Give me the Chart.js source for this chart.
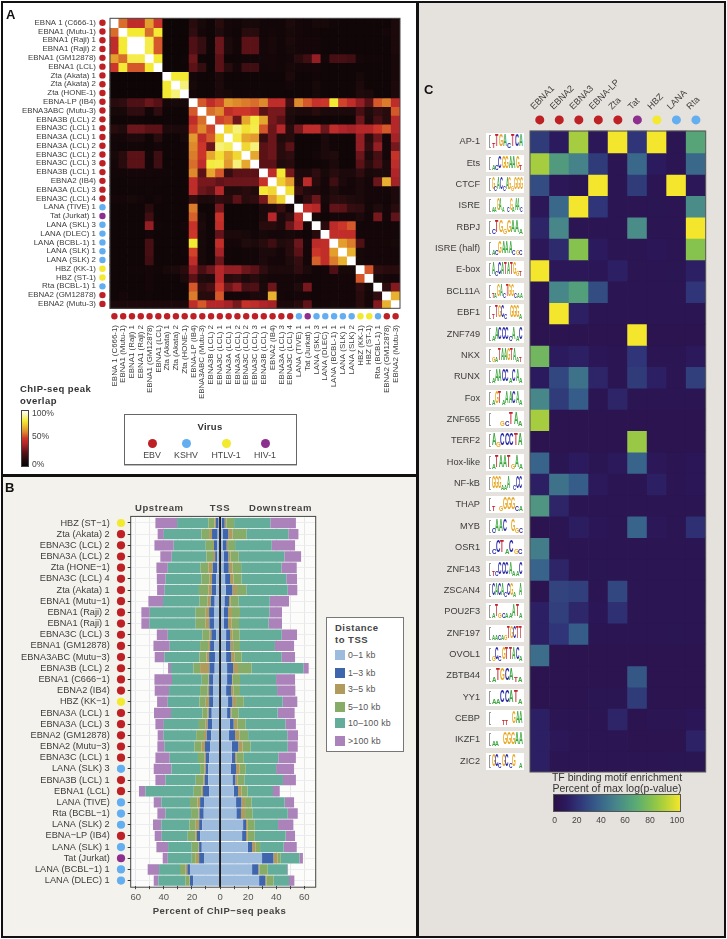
<!DOCTYPE html>
<html>
<head>
<meta charset="utf-8">
<title>ChIP-seq overlap</title>
<script src="https://cdn.jsdelivr.net/npm/chart.js@4"></script>
<style>
  html, body { margin: 0; padding: 0; background: #fff; }
  #page { position: relative; width: 727px; height: 939px; overflow: hidden; font-family: "Liberation Sans", Arial, sans-serif; color: #333; }
  canvas { position: absolute; left: 0; top: 0; }
  .panel { position: absolute; box-sizing: border-box; border: 2px solid #111; }
  .txt { position: absolute; white-space: nowrap; line-height: 1; }
  .logo { position: absolute; background: #fff; overflow: hidden; }
  .logo b { position: absolute; display: block; line-height: 1; font-weight: bold; transform-origin: left bottom; }
</style>
</head>
<body>
<div id="page">
  <div class="panel" style="left:1px;top:1px;width:417px;height:475px;background:#fff"></div>
  <div class="panel" style="left:1px;top:475px;width:417px;height:463px;background:#f3f2ec"></div>
  <div class="panel" style="left:417px;top:1px;width:309px;height:937px;background:#e5e1dc"></div>
  <canvas id="chartA" width="727" height="939"></canvas>
  <canvas id="chartB" width="727" height="939"></canvas>
  <canvas id="chartBDots" width="727" height="939"></canvas>
  <canvas id="chartC" width="727" height="939"></canvas>
</div>
<script>
const RED = '#bd2025', BLUE = '#62aef0', YELLOW = '#f3e92e', PURPLE = '#8d2f8f';

// panel A
const overlapNames = ['EBNA 1 (C666-1)','EBNA1 (Mutu-1)','EBNA1 (Raji) 1','EBNA1 (Raji) 2','EBNA1 (GM12878)','EBNA1 (LCL)',
  'Zta (Akata) 1','Zta (Akata) 2','Zta (HONE-1)','EBNA-LP (IB4)','EBNA3ABC (Mutu-3)','EBNA3B (LCL) 2','EBNA3C (LCL) 1',
  'EBNA3A (LCL) 1','EBNA3A (LCL) 2','EBNA3C (LCL) 2','EBNA3C (LCL) 3','EBNA3B (LCL) 1','EBNA2 (IB4)','EBNA3A (LCL) 3',
  'EBNA3C (LCL) 4','LANA (TIVE) 1','Tat (Jurkat) 1','LANA (SKL) 3','LANA (DLEC) 1','LANA (BCBL-1) 1','LANA (SLK) 1',
  'LANA (SLK) 2','HBZ (KK-1)','HBZ (ST-1)','Rta (BCBL-1) 1','EBNA2 (GM12878)','EBNA2 (Mutu-3)'];
const overlapVirus = [RED,RED,RED,RED,RED,RED,RED,RED,RED,RED,RED,RED,RED,RED,RED,RED,RED,RED,RED,RED,RED,
  BLUE,PURPLE,BLUE,BLUE,BLUE,BLUE,BLUE,YELLOW,YELLOW,BLUE,RED,RED];
const overlap = [
  [100,58,45,45,66,50, 2,2,2, 12,6,3,12,5,4,6,6, 4,4,4,8,5,4,6,6,4,3,3,3,3,3,3,8],
  [58,100,82,82,58,82, 2,2,2, 14,5,3,10,5,3,12,12, 4,5,4,6,5,4,4,3,3,3,3,3,3,3,5,8],
  [45,82,100,100,84,55, 2,2,2, 22,15,3,28,8,4,25,25, 5,7,4,8,5,5,5,3,3,3,3,3,3,3,3,8],
  [45,82,100,100,84,55, 2,2,2, 22,15,3,28,8,4,25,25, 5,7,4,6,5,5,5,3,3,3,3,3,3,3,3,8],
  [66,58,84,84,100,82, 2,2,3, 28,3,2,25,3,3,4,4, 5,5,4,5,12,18,35,5,20,20,18,5,4,4,3,7],
  [50,82,55,55,82,100, 2,2,2, 25,15,2,25,12,5,18,18, 4,5,4,7,5,5,5,3,3,3,3,3,3,3,3,7],
  [2,2,2,2,2,2, 100,82,82, 5,3,3,8,3,3,3,3, 3,3,3,8,3,3,4,3,3,3,3,6,3,3,3,7],
  [2,2,2,2,2,2, 82,100,88, 6,3,3,8,3,3,3,3, 3,3,3,5,3,3,6,3,3,3,3,8,3,3,3,8],
  [2,2,2,2,2,2, 82,88,100, 5,3,3,8,6,4,4,4, 3,3,3,3,3,3,6,3,3,3,3,10,8,3,3,8],
  [12,14,22,22,28,24, 5,6,6, 100,55,45,52,65,62,60,58, 62,45,45,18,62,55,48,50,82,52,45,35,25,55,60,45],
  [6,6,14,14,4,14, 3,3,3, 55,100,58,62,45,50,50,45, 25,30,30,10,8,8,12,8,8,8,8,20,10,15,12,55],
  [3,3,3,3,2,2, 3,3,3, 45,58,100,52,55,28,68,83, 68,30,25,8,3,3,3,3,3,3,3,28,8,20,12,42],
  [12,10,28,28,25,25, 8,8,8, 52,62,52,100,78,88,80,84, 55,28,42,12,30,45,45,28,45,40,38,42,42,50,55,42],
  [5,5,8,8,3,12, 3,3,6, 65,45,55,78,100,84,68,65, 15,28,10,12,3,3,3,8,4,3,3,35,12,28,5,38],
  [4,3,4,4,3,5, 3,3,4, 62,50,28,88,85,100,78,88, 25,28,12,25,3,3,3,8,4,3,3,35,14,35,5,30],
  [6,12,25,25,4,18, 3,3,4, 60,50,68,80,68,78,100,68, 25,28,12,14,3,3,5,8,10,3,3,28,8,20,5,48],
  [5,12,25,25,4,18, 3,3,3, 58,45,83,84,65,88,68,100, 25,25,10,12,3,3,3,4,8,3,3,25,12,22,8,45],
  [4,4,5,5,5,4, 4,3,3, 62,25,68,55,15,25,25,25, 100,45,82,30,8,8,14,6,12,8,8,14,6,8,8,40],
  [3,3,4,4,4,4, 3,3,3, 45,30,30,26,28,28,28,28, 48,100,76,66,10,44,12,5,18,8,5,8,5,28,70,38],
  [3,3,3,3,4,3, 3,3,3, 45,28,25,42,10,10,12,10, 82,78,100,80,16,10,8,5,10,5,5,8,5,5,5,9],
  [5,5,6,5,3,5, 3,3,3, 15,8,8,14,12,25,12,14, 30,66,78,100,5,14,28,6,12,12,10,8,5,5,4,8],
  [3,3,3,3,12,3, 3,3,3, 60,3,3,30,3,3,3,3, 8,10,16,5,100,46,42,5,26,25,15,14,5,10,5,12],
  [3,3,3,3,18,3, 3,3,3, 56,6,3,48,3,3,3,3, 8,42,8,14,46,100,5,3,5,5,5,8,4,30,5,26],
  [3,3,3,3,35,4, 3,3,5, 48,8,3,46,3,3,3,3, 12,12,8,28,42,5,100,12,44,50,55,4,4,4,4,5],
  [3,3,3,3,5,3, 3,3,3, 50,6,3,26,8,8,6,4, 6,5,5,6,5,3,12,100,46,46,46,5,5,5,5,5],
  [3,3,3,3,20,3, 3,3,4, 82,6,3,46,5,5,10,8, 12,18,10,12,28,5,44,46,100,66,60,22,5,5,5,6],
  [3,3,3,3,20,3, 3,3,4, 52,6,3,38,4,3,4,4, 8,8,5,12,25,5,50,46,66,100,70,6,5,5,5,5],
  [3,3,3,3,18,3, 3,3,3, 45,6,3,28,4,3,4,4, 8,5,5,10,15,5,56,46,60,70,100,6,5,5,5,5],
  [3,3,4,4,5,4, 6,8,12, 35,20,28,42,35,35,28,25, 14,8,8,8,14,8,4,5,22,6,6,100,55,14,12,12],
  [3,3,3,3,5,3, 3,3,8, 25,10,8,42,12,14,8,12, 6,5,5,5,5,4,4,5,5,5,5,55,100,6,5,5],
  [3,3,3,3,5,3, 3,3,3, 55,15,20,50,28,35,20,22, 8,28,5,5,10,30,4,5,5,5,5,14,6,100,14,32],
  [3,5,3,3,4,3, 3,3,3, 60,12,12,55,5,5,5,8, 8,70,5,4,5,5,4,5,5,5,5,12,5,14,100,70],
  [8,8,8,8,8,8, 8,8,8, 45,55,42,42,38,30,48,45, 40,38,9,8,12,26,5,5,6,5,5,12,5,32,70,100]
];
const overlapStops = [[0,'#0a0405'],[10,'#1f0a0c'],[25,'#5a1217'],[40,'#b0242a'],[50,'#cc3529'],[62,'#de8a2c'],[72,'#eabb30'],[82,'#f4ea34'],[92,'#f8f5a8'],[100,'#ffffff']];
const virusNames = ['EBV','KSHV','HTLV-1','HIV-1'];
const virusColors = [RED,BLUE,YELLOW,PURPLE];

// panel B, cumulative percent at the outer edge of each distance class
const tssNames = ['HBZ (ST−1)','Zta (Akata) 2','EBNA3C (LCL) 2','EBNA3A (LCL) 2','Zta (HONE−1)','EBNA3C (LCL) 4','Zta (Akata) 1',
  'EBNA1 (Mutu−1)','EBNA1 (Raji) 2','EBNA1 (Raji) 1','EBNA3C (LCL) 3','EBNA1 (GM12878)','EBNA3ABC (Mutu−3)','EBNA3B (LCL) 2',
  'EBNA1 (C666−1)','EBNA2 (IB4)','HBZ (KK−1)','EBNA3A (LCL) 1','EBNA3A (LCL) 3','EBNA2 (GM12878)','EBNA2 (Mutu−3)','EBNA3C (LCL) 1',
  'LANA (SLK) 3','EBNA3B (LCL) 1','EBNA1 (LCL)','LANA (TIVE)','Rta (BCBL−1)','LANA (SLK) 2','EBNA−LP (IB4)','LANA (SLK) 1',
  'Tat (Jurkat)','LANA (BCBL−1) 1','LANA (DLEC) 1'];
const tssVirus = [YELLOW,RED,RED,RED,RED,RED,RED,RED,RED,RED,RED,RED,RED,RED,RED,RED,YELLOW,RED,RED,RED,RED,RED,
  BLUE,RED,RED,BLUE,BLUE,BLUE,RED,BLUE,PURPLE,BLUE,BLUE];
const distanceNames = ['0–1 kb','1–3 kb','3–5 kb','5–10 kb','10–100 kb','>100 kb'];
const distanceColors = ['#9dbbdc','#3f66ad','#b09a5c','#86ac68','#65ad9b','#ab82ba'];
const upstream = [
  [1,3,4,8.3,30.6,46],[1.7,5.7,7.8,13.3,40,44.4],[2.1,4.3,5,10.2,33,46.7],[2,3.5,5,9.7,34.4,42.5],[2,5.2,8.3,13.8,37.2,45.3],
  [2.6,5.7,7.6,13.3,38.7,45],[2.6,5.9,8.3,15,39.4,44.8],[3.8,6.6,8.8,14.5,40.6,51],[4.3,7.8,10.4,17.6,50,56],[4.3,7.6,10.4,17.3,50.3,56],
  [2.8,6.2,7.6,12.6,37.2,45],[4,7.1,8.5,14.2,35.8,47.4],[3.6,7.8,9.7,14.7,39.4,46.5],[3.8,7.6,14.2,19,34.9,37],[4.7,7.8,8.3,13,34.2,46.7],
  [5,7.8,8.8,14.2,36.3,46.5],[4.7,7.8,10.2,14.7,37.2,44.8],[5.9,8,9,12.6,34.9,47],[5.7,8.8,10.4,15,40,46],[6.2,9.5,11.4,17,40.3,44.4],
  [7.1,10.7,13.3,18.3,39.4,44.6],[7.6,10.2,11.2,15.7,35.8,46],[8.3,10.2,11.2,14.2,34.6,47.2],[8.5,10.9,11.9,17.3,38.9,46],[7.8,12.1,13.3,18.7,53.1,57.7],
  [11.4,14.2,16.1,21.4,41.8,47.2],[11.6,14.7,15.4,20.6,38.9,44.6],[12.6,14.9,17.3,21.8,41.8,47.7],[14,16.4,17.6,23,41.5,46.5],[13,14.9,15.4,20.2,37,45.3],
  [11.4,14.9,17.3,20.2,37.2,40.8],[21.4,23.3,24.7,28.5,43.4,51.5],[19.2,21.4,21.8,24.7,43.9,47.2]
];
const downstream = [
  [1.2,3.3,4.5,10,35.8,54],[2.1,5.9,8.8,18.7,48.6,55.8],[2.1,4.7,5.7,10.7,36.8,53.4],[2.8,5.9,7.4,13.3,45.8,57.7],[2.4,6.2,8.8,15,43.7,54.6],
  [3.6,7.1,9.5,15.2,47.2,54.8],[4,8.8,12.1,18.7,48.2,55],[3.1,6.4,7.6,13.3,35.4,49.1],[2.8,5.7,8.5,14.2,35.1,44.1],[2.8,5.7,8.3,13.5,34.6,44.1],
  [4.3,7.1,9,14,43.9,54.8],[4,7.4,9.3,14.2,39.1,52.7],[4.3,7.8,10.4,15.4,43.9,53.4],[5,9.3,12.8,22.5,59.3,63.1],[5,8.5,9,14.2,39.9,53.4],
  [4.3,7.8,9.5,14.2,40.6,53.6],[5.7,8.8,11.4,16.9,44.6,55],[5,7.4,8.3,13.3,41,53.1],[6.9,9.7,12.3,18,46.5,54],[6.4,10.7,13.8,20,47.9,55.5],
  [8.3,13,16,21.6,48.2,55.3],[8.3,10.7,11.9,16.9,41.5,54],[7.8,11.4,14,18.3,39.9,52.7],[8.8,10.9,12.6,17.3,44.8,54],[9.7,12.8,15.2,19.5,37.7,42.5],
  [11.4,15.2,17.8,22.5,46,52.7],[11.6,14.9,17.8,23,48.2,55.3],[16.4,18.5,19.7,24.7,41.3,52.2],[15.7,18.5,19.7,24.7,46.7,53.4],[19.7,22.8,25.1,28.5,45.3,54.6],
  [29.9,38,40.8,43.2,56.5,59],[22.8,27.3,28,33.9,47.9,48.4],[27.8,32.3,33.2,38,49.1,52.9]
];
const tssTicks = [-60,-50,-40,-30,-20,-10,0,10,20,30,40,50,60];

// panel C
const motifNames = ['AP-1','Ets','CTCF','ISRE','RBPJ','ISRE (half)','E-box','BCL11A','EBF1','ZNF749','NKX','RUNX','Fox','ZNF655','TERF2',
  'Hox-like','NF-kB','THAP','MYB','OSR1','ZNF143','ZSCAN4','POU2F3','ZNF197','OVOL1','ZBTB44','YY1','CEBP','IKZF1','ZIC2'];
const motifLogos = ['tTGAcTCA','acCGGAAGt','GcACcAGgGGG','aaGAa cGaAAc','cTGgGAAa','acGAAAcgc','AcCATATGgt','taGAcTGGcaa','tTGCc GGGa','aACCCcAaC',
  'gaTAAGTAat','aAACCaCAa','aGTaAACAa','  gcTAa','AgCCCTA','aTAATgAa','GGGaaA cCC','t gGGGca','cAAC Ggc','cCTaCgc','tcCCCAaaC','CACAcCGa A','aTgcaaATa',
  'aacagTGCTT','gCcGTTACa','aTGCAta','aaCCATa','   tt GAA','aa GGGAA','GCcGCcG a'];
const factorNames = ['EBNA1','EBNA2','EBNA3','EBNA-LP','Zta','Tat','HBZ','LANA','Rta'];
const factorVirus = [RED,RED,RED,RED,RED,PURPLE,YELLOW,BLUE,BLUE];
const enrichment = [
  [22,10,85,8,100,20,100,5,62],[85,58,48,22,5,38,10,5,38],[28,8,6,100,5,22,5,100,8],[8,38,100,20,5,5,6,5,52],[14,50,5,5,5,52,5,5,100],
  [8,16,78,10,5,5,7,5,78],[100,8,8,7,12,5,5,6,12],[4,50,60,28,5,5,5,5,20],[4,100,12,5,5,5,5,5,5],[4,4,4,4,4,100,4,4,4],
  [72,10,12,7,5,20,5,5,9],[10,26,42,14,5,22,12,5,24],[50,22,34,5,14,5,5,5,5],[85,4,4,4,4,4,4,4,4],[4,4,4,4,4,82,4,4,4],
  [36,6,10,6,9,36,8,5,7],[12,42,34,9,5,5,12,5,7],[56,14,5,5,5,5,5,5,5],[4,5,11,7,5,36,8,5,18],[46,5,5,5,5,5,5,5,5],
  [36,14,5,6,5,5,5,5,5],[4,25,24,5,26,5,5,5,5],[12,24,15,7,18,5,5,5,5],[12,20,34,5,5,5,5,6,5],[40,4,4,4,4,4,4,4,4],
  [4,4,4,4,4,32,4,4,4],[4,4,4,6,6,22,4,4,4],[12,5,5,5,14,4,5,5,7],[12,8,5,5,5,4,4,4,13],[12,5,5,5,5,5,5,6,6]
];
const enrichStops = [[0,'#2a1045'],[10,'#2c1a5e'],[20,'#2f3578'],[35,'#37608a'],[50,'#47878a'],[65,'#5aab74'],[78,'#86c24e'],[88,'#b4d238'],[100,'#f3e62c']];
const enrichTicks = [0,20,40,60,80,100];

Chart.defaults.font.family = '"Liberation Sans", Arial, sans-serif';
Chart.defaults.animation = false;
Chart.defaults.responsive = false;
Chart.defaults.plugins.legend.display = false;
Chart.defaults.plugins.tooltip.enabled = false;

function hex(c) { return [1, 3, 5].map(k => parseInt(c.substr(k, 2), 16)); }
function rampColor(stops, v) {
  let k = 1;
  while (k < stops.length - 1 && v > stops[k][0]) k++;
  const a = stops[k - 1], b = stops[k], t = (v - a[0]) / (b[0] - a[0]);
  const ca = hex(a[1]), cb = hex(b[1]);
  return 'rgb(' + ca.map((x, n) => Math.round(x + (cb[n] - x) * t)).join(',') + ')';
}
function gradient(stops, dir) {
  return 'linear-gradient(' + dir + ',' + stops.map(s => s[1] + ' ' + s[0] + '%').join(',') + ')';
}

const page = document.getElementById('page');
function addText(str, x, y, style, anchor) {
  const d = document.createElement('div');
  d.className = 'txt';
  d.textContent = str;
  d.style.cssText = 'left:' + x + 'px;top:' + y + 'px;' + (style || '');
  const tx = anchor === 'middle' ? '-50%' : anchor === 'end' ? '-100%' : '0';
  d.style.transform = 'translate(' + tx + ',-50%)';
  page.appendChild(d);
  return d;
}
function addBox(x, y, w, h, style) {
  const d = document.createElement('div');
  d.style.cssText = 'position:absolute;box-sizing:border-box;left:' + x + 'px;top:' + y + 'px;width:' + w + 'px;height:' + h + 'px;' + style;
  page.appendChild(d);
  return d;
}
function addDot(x, y, r, color) {
  addBox(x - r, y - r, 2 * r, 2 * r, 'border-radius:50%;background:' + color);
}

// fixes an axis box so the plot area lands at page coordinates
function fixSize(prop, size) {
  return s => {
    s[prop] = size;
    s.paddingLeft = s.paddingRight = s.paddingTop = s.paddingBottom = 0;
  };
}
function setTicks(values) {
  return a => { a.ticks = values.map(v => ({ value: v })); };
}
// frame in data units, the heat maps keep some room for their dots inside the scales
const heatFrame = (color, xMax, yMax) => ({
  id: 'heatFrame',
  afterDatasetsDraw(c) {
    const x0 = c.scales.x.getPixelForValue(-0.5), x1 = c.scales.x.getPixelForValue(xMax);
    const y0 = c.scales.y.getPixelForValue(-0.5), y1 = c.scales.y.getPixelForValue(yMax);
    c.ctx.save();
    c.ctx.strokeStyle = color;
    c.ctx.lineWidth = 1;
    c.ctx.strokeRect(x0, y0, x1 - x0, y1 - y0);
    c.ctx.restore();
  }
});

// the small overlap hides antialiasing seams between rows, the next row paints over it
function cellBars(rows, stops, overlapY) {
  return rows.map((row, i) => ({
    type: 'bar',
    data: row.map((v, j) => ({ x: j, y: [i - 0.5, i + 0.5 + (i < rows.length - 1 ? overlapY : 0)] })),
    backgroundColor: row.map(v => rampColor(stops, v)),
    grouped: false,
    barPercentage: 1,
    categoryPercentage: 1,
    borderWidth: 0
  }));
}
function dots(points, colors, r) {
  return {
    type: 'scatter',
    data: points,
    pointBackgroundColor: colors,
    pointBorderWidth: 0,
    pointRadius: r,
    showLine: false
  };
}

// A: peak overlap heat map
const idxA = overlapNames.map((n, i) => i);
new Chart(document.getElementById('chartA'), {
  data: {
    datasets: cellBars(overlap, overlapStops, 0.06).concat([
      dots(idxA.map(i => ({ x: -1.36, y: i })), overlapVirus, 3.2),
      dots(idxA.map(i => ({ x: i, y: 33.4 })), overlapVirus, 3.2)
    ])
  },
  options: {
    layout: { padding: { top: 18.3, right: 727 - 400 } },
    scales: {
      x: {
        type: 'linear', position: 'bottom', min: -1.9, max: 32.5, offset: false,
        afterBuildTicks: setTicks(idxA), afterFit: fixSize('height', 939 - 320.6),
        grid: { display: false, drawTicks: false }, border: { display: false },
        ticks: { autoSkip: false, minRotation: 90, maxRotation: 90, padding: 4.4, color: '#3c3c3c', font: { size: 7.9 },
          callback: v => overlapNames[v] }
      },
      y: {
        type: 'linear', reverse: true, min: -0.5, max: 33.9, offset: false,
        afterBuildTicks: setTicks(idxA), afterFit: fixSize('width', 97.7),
        grid: { display: false, drawTicks: false }, border: { display: false },
        ticks: { autoSkip: false, padding: 1.7, color: '#3c3c3c', font: { size: 7.9 }, callback: v => overlapNames[v] }
      }
    }
  },
  plugins: [heatFrame('#444', 32.5, 32.5)]
});

addText('ChIP-seq peak', 20, 389, 'font-size:9.5px;font-weight:bold;letter-spacing:.45px');
addText('overlap', 20, 401, 'font-size:9.5px;font-weight:bold;letter-spacing:.45px');
addBox(21, 410, 8, 57, 'border:1px solid #444;background:' + gradient(overlapStops, 'to top'));
addText('100%', 32, 412.5, 'font-size:8.6px;color:#444');
addText('50%', 32, 436, 'font-size:8.6px;color:#444');
addText('0%', 32, 463.5, 'font-size:8.6px;color:#444');
addBox(124, 414, 173, 51, 'border:1px solid #666;box-shadow:0 1px 0 #bbb;background:#fff');
addText('Virus', 210, 426.5, 'font-size:9.5px;font-weight:bold;letter-spacing:.3px', 'middle');
[152, 186, 226, 265].forEach((x, i) => {
  addDot(x, 443, 4.5, virusColors[i]);
  addText(virusNames[i], x, 455, 'font-size:8.8px;color:#444', 'middle');
});
addText('A', 6, 13.5, 'font-size:13px;font-weight:bold;color:#111');

// B: distance to TSS
function edgesToSegments(rows, sign) {
  return distanceNames.map((n, k) => rows.map(r => sign * (k ? r[k] - r[k - 1] : r[0])));
}
const upSeg = edgesToSegments(upstream, -1), downSeg = edgesToSegments(downstream, 1);
const tssBars = [];
distanceNames.forEach((n, k) => {
  tssBars.push({ type: 'bar', label: n, data: upSeg[k], backgroundColor: distanceColors[k], borderWidth: 0, barPercentage: 0.93, categoryPercentage: 1 });
  tssBars.push({ type: 'bar', label: n, data: downSeg[k], backgroundColor: distanceColors[k], borderWidth: 0, barPercentage: 0.93, categoryPercentage: 1 });
});
new Chart(document.getElementById('chartB'), {
  data: { labels: tssNames, datasets: tssBars },
  options: {
    indexAxis: 'y',
    layout: { padding: { top: 517.4, right: 727 - 315.7 } },
    scales: {
      x: {
        type: 'linear', stacked: true, min: -63.6, max: 68.1,
        afterBuildTicks: setTicks(tssTicks), afterFit: fixSize('height', 939 - 886.2),
        grid: { color: '#e7e7eb', tickLength: 3, tickColor: '#444' }, border: { display: false },
        ticks: { autoSkip: false, maxRotation: 0, padding: 2, color: '#555', font: { size: 9.5 },
          callback: v => (v % 20 === 0 ? Math.abs(v) : '') }
      },
      y: {
        type: 'category', stacked: true, offset: true,
        afterFit: fixSize('width', 130.7),
        grid: { offset: false, color: '#ededf1', tickLength: 3, tickColor: '#333' }, border: { display: false },
        ticks: { autoSkip: false, padding: 18, color: '#3c3c3c', font: { size: 9.2 } }
      }
    }
  },
  plugins: [
    {
      id: 'plotBg',
      beforeDraw(c) {
        const a = c.chartArea;
        c.ctx.fillStyle = '#fcfcfb';
        c.ctx.fillRect(a.left, a.top - 1, a.right - a.left, a.bottom - a.top + 2);
      }
    },
    {
      id: 'tssLine',
      afterDatasetsDraw(c) {
        const x0 = c.scales.x.getPixelForValue(0), a = c.chartArea;
        c.ctx.save();
        c.ctx.strokeStyle = '#111';
        c.ctx.lineWidth = 1.8;
        c.ctx.beginPath();
        c.ctx.moveTo(x0, a.top - 1);
        c.ctx.lineTo(x0, a.bottom + 1);
        c.ctx.stroke();
        c.ctx.strokeStyle = '#444';
        c.ctx.lineWidth = 1;
        c.ctx.strokeRect(a.left, a.top - 1, a.right - a.left, a.bottom - a.top + 2);
        c.ctx.restore();
      }
    }
  ]
});
// the virus dots beside panel B sit in their own narrow strip so the grid stays clear of them
new Chart(document.getElementById('chartBDots'), {
  data: {
    labels: tssNames,
    datasets: [dots(tssNames.map(n => ({ x: 0, y: n })), tssVirus, 4.1)]
  },
  options: {
    layout: { padding: { top: 517.4, bottom: 939 - 886.2, right: 727 - 127 } },
    scales: {
      x: { type: 'linear', min: -1, max: 1, display: false },
      y: {
        type: 'category', offset: true,
        afterFit: fixSize('width', 115),
        grid: { display: false, drawTicks: false }, border: { display: false },
        ticks: { display: false }
      }
    }
  }
});

addText('B', 5, 487, 'font-size:13px;font-weight:bold;color:#111');
addText('Upstream', 135, 508, 'font-size:9.5px;font-weight:bold;letter-spacing:.6px;color:#444');
addText('TSS', 220, 508, 'font-size:9.5px;font-weight:bold;letter-spacing:.6px;color:#444', 'middle');
addText('Downstream', 249, 508, 'font-size:9.5px;font-weight:bold;letter-spacing:.6px;color:#444');
addText('Percent of ChIP−seq peaks', 219.5, 911, 'font-size:9.5px;font-weight:bold;letter-spacing:.45px;color:#444', 'middle');
addBox(326, 617, 78, 135, 'border:1px solid #777;background:#fff');
addText('Distance', 335, 628, 'font-size:9.5px;font-weight:bold;letter-spacing:.5px;color:#444');
addText('to TSS', 335, 640, 'font-size:9.5px;font-weight:bold;letter-spacing:.5px;color:#444');
[655, 673, 689, 706.5, 723, 740.5].forEach((y, i) => {
  addBox(335, y - 5, 10, 10, 'background:' + distanceColors[i]);
  addText(distanceNames[i], 348, y, 'font-size:8.8px;color:#555;letter-spacing:.2px');
});

// C: motif enrichment heat map
const idxRows = motifNames.map((n, i) => i), idxCols = factorNames.map((n, j) => j);
const chartC = new Chart(document.getElementById('chartC'), {
  data: {
    datasets: cellBars(enrichment, enrichStops, 0.03).concat([
      dots(idxCols.map(j => ({ x: j, y: -1.02 })), factorVirus, 4.5)
    ])
  },
  options: {
    layout: { padding: { bottom: 939 - 772, right: 727 - 705.7 } },
    scales: {
      x: {
        type: 'linear', position: 'top', min: -0.5, max: 8.5, offset: false,
        afterBuildTicks: setTicks(idxCols), afterFit: fixSize('height', 115),
        grid: { display: false, drawTicks: false }, border: { display: false },
        ticks: { autoSkip: false, minRotation: 45, maxRotation: 45, padding: 3, color: '#3c3c3c', font: { size: 9 },
          callback: v => factorNames[v] }
      },
      y: {
        type: 'linear', reverse: true, min: -1.25, max: 29.5, offset: false,
        afterBuildTicks: setTicks(idxRows), afterFit: fixSize('width', 530),
        grid: { display: false, drawTicks: false }, border: { display: false },
        ticks: { autoSkip: false, padding: 50, color: '#3c3c3c', font: { size: 9.2 }, callback: v => motifNames[v] }
      }
    }
  },
  plugins: [heatFrame('#555', 8.5, 29.5)]
});

// sequence logos next to the motif names
const baseColors = { A: '#3aa63c', C: '#2a2ba8', G: '#e8a61f', T: '#c4202b' };
motifLogos.forEach((seq, i) => {
  const cy = chartC.scales.y.getPixelForValue(i);
  const box = addBox(485.5, cy - 8.5, 38, 17, '');
  box.className = 'logo';
  const w = 31 / seq.length;
  for (let k = 0; k < seq.length; k++) {
    const ch = seq[k];
    if (ch === ' ') continue;
    const big = ch === ch.toUpperCase();
    const size = big ? 16 : 7;
    const b = document.createElement('b');
    b.textContent = ch.toUpperCase();
    b.style.cssText = 'left:' + (6 + k * w) + 'px;bottom:1px;font-size:' + size + 'px;color:' + baseColors[ch.toUpperCase()] +
      ';transform:scaleX(' + (w / (size * 0.72)) + ')';
    box.appendChild(b);
  }
  const br = document.createElement('div');
  br.style.cssText = 'position:absolute;left:3px;top:2px;bottom:2px;width:2px;border:1px solid #999;border-right:0;box-sizing:border-box';
  box.appendChild(br);
});

addText('C', 424, 88.5, 'font-size:13px;font-weight:bold;color:#111');
addText('TF binding motif enrichment', 617, 777, 'font-size:10.5px;color:#333', 'middle');
addText('Percent of max log(p-value)', 617, 788, 'font-size:10.5px;color:#333', 'middle');
addBox(553, 794, 128, 18, 'border:1px solid #555;background:' + gradient(enrichStops, 'to right'));
enrichTicks.forEach((t, i) => {
  addText(String(t), [554.7, 576.7, 601, 625, 650, 677][i], 820, 'font-size:8.6px;color:#444', 'middle');
});
</script>
</body>
</html>
